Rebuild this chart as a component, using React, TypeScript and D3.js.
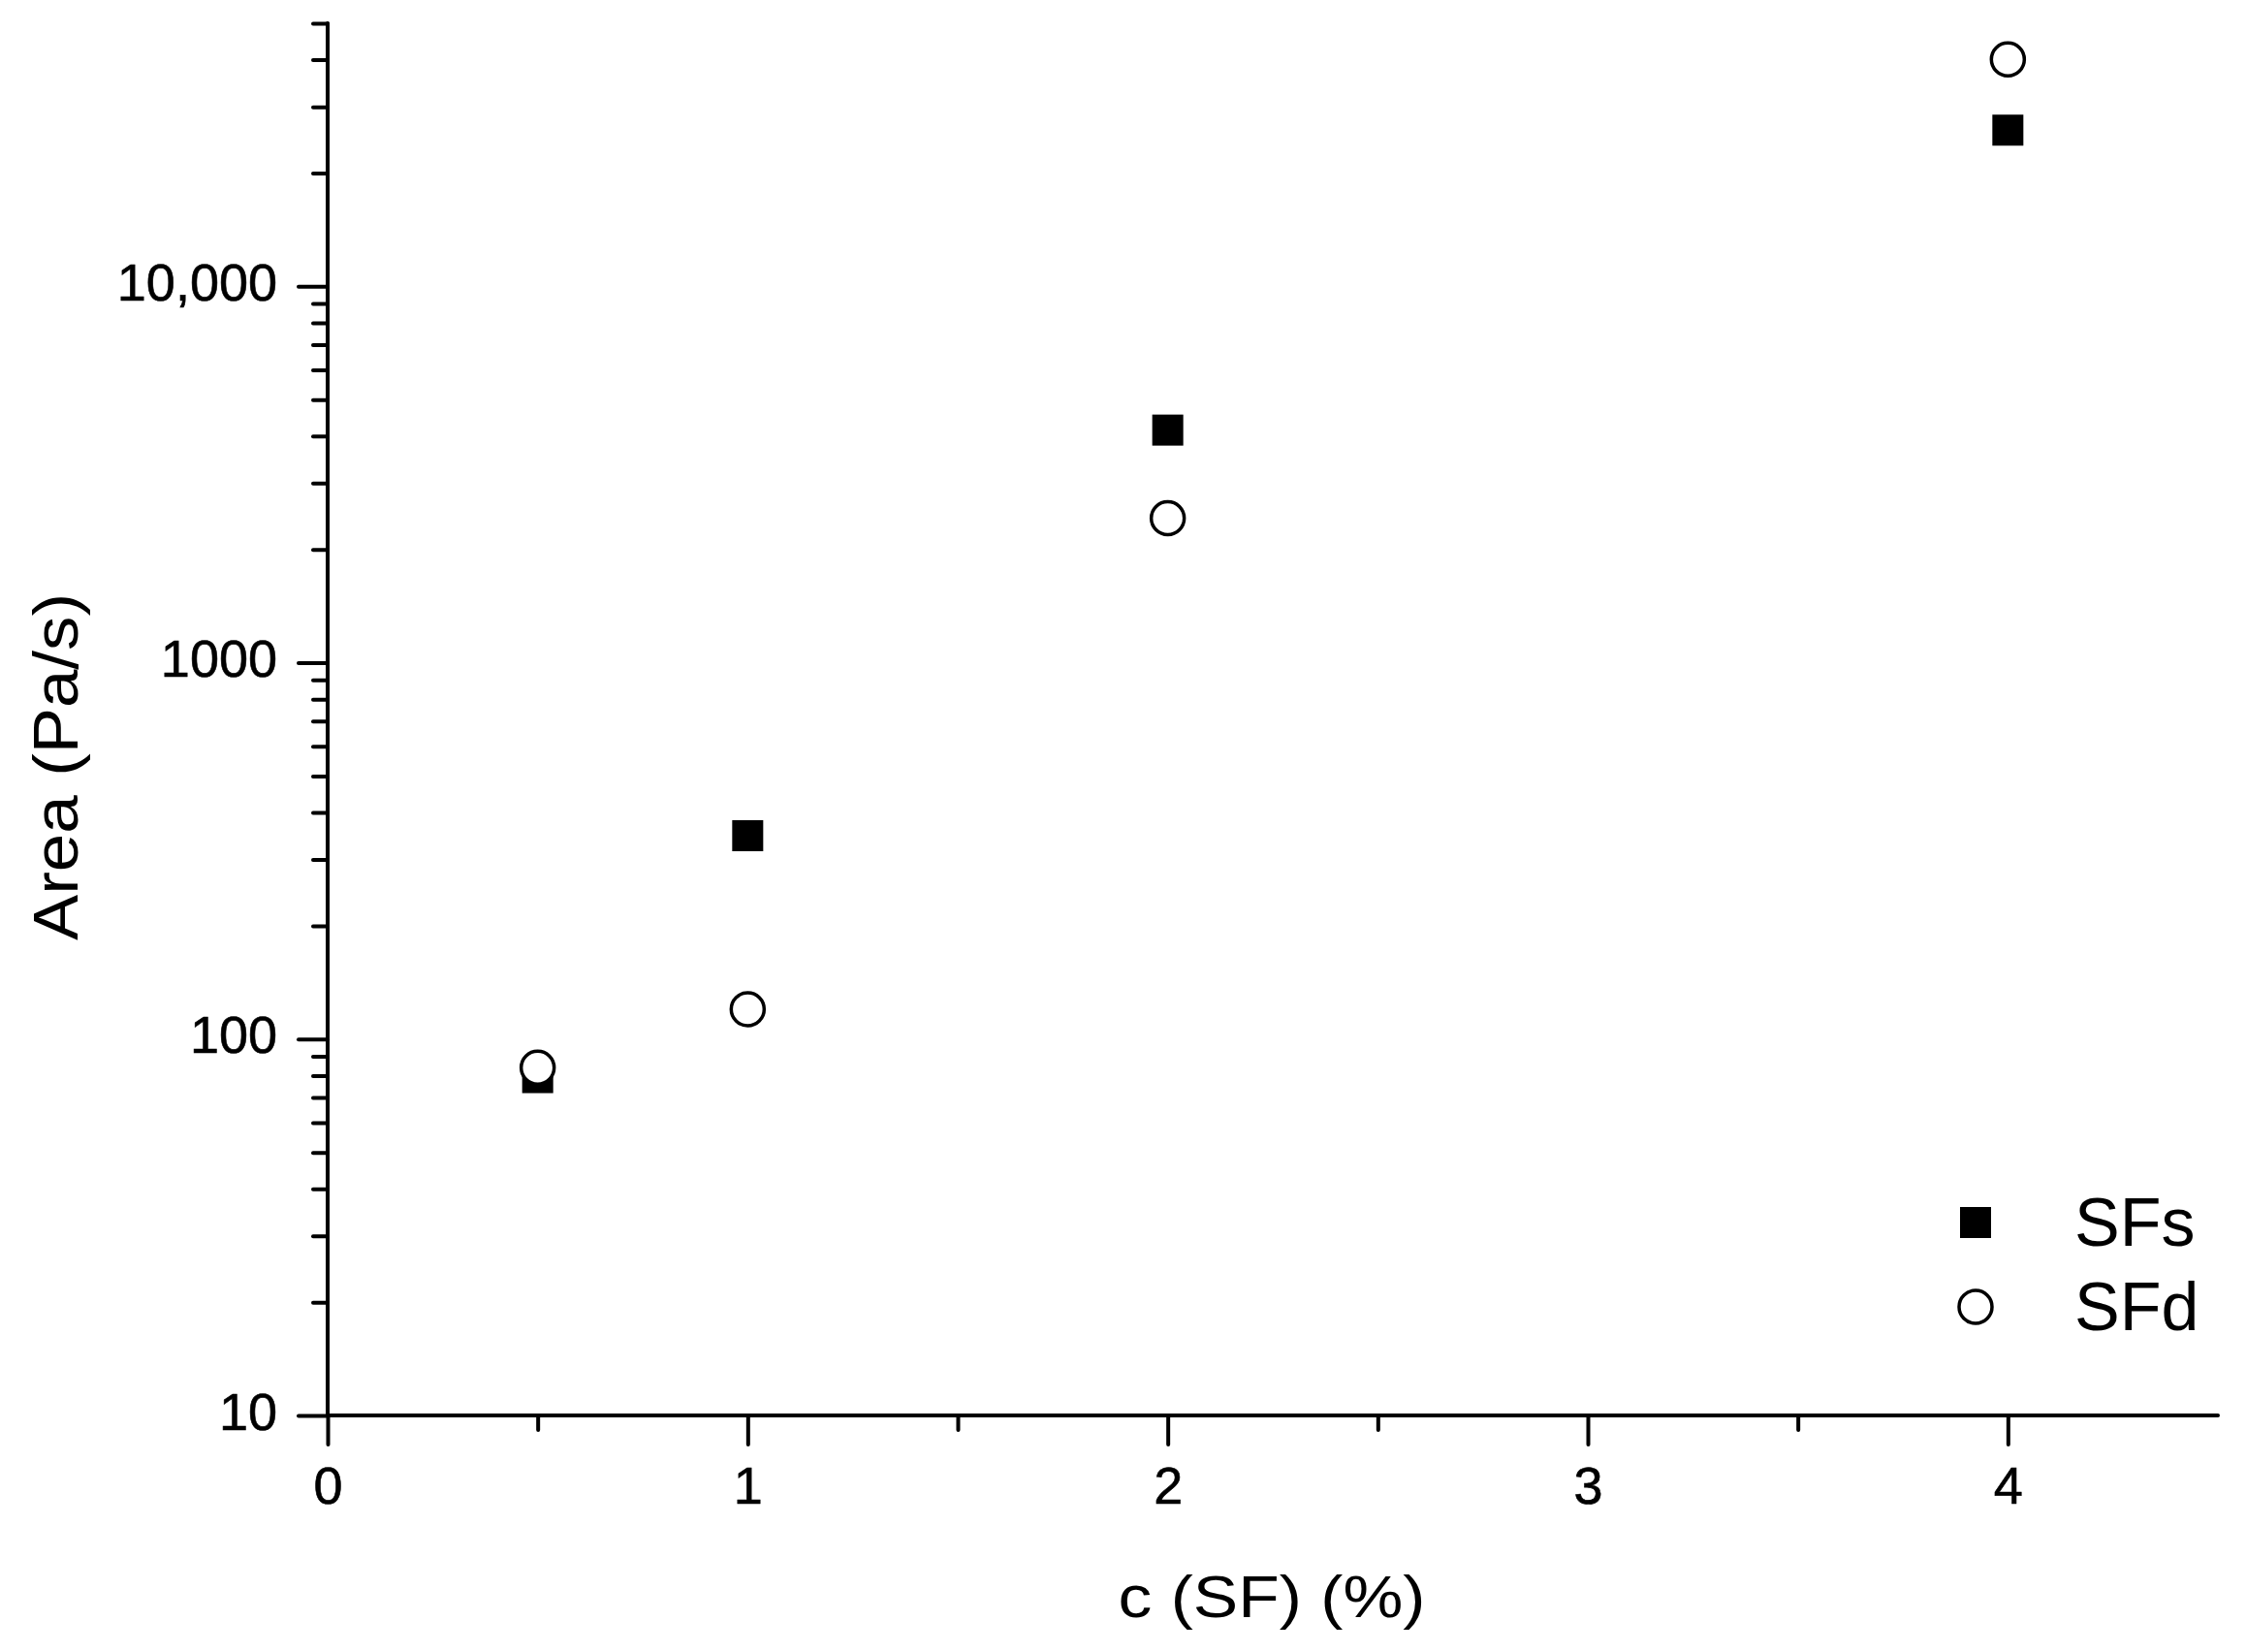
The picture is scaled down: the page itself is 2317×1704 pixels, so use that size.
import * as d3 from 'd3';
import React, { useRef, useEffect } from 'react';

// values
const concentrations = [0.5, 1, 2, 4];
const sfsArea = [79, 347, 4150, 26000];
const sfdArea = [84, 120, 2420, 40100];

const xMajorTicks = [0, 1, 2, 3, 4];
const xMinorTicks = [0.5, 1.5, 2.5, 3.5];
const yMajorTicks = [10, 100, 1000, 10000];
const yMajorLabels = ['10', '100', '1000', '10,000'];
const yMinorTicks = [
    20, 30, 40, 50, 60, 70, 80, 90,
    200, 300, 400, 500, 600, 700, 800, 900,
    2000, 3000, 4000, 5000, 6000, 7000, 8000, 9000,
    20000, 30000, 40000, 50000,
];

const seriesNames = ['SFs', 'SFd'];

const App = () => {
    const svgRef = useRef<SVGSVGElement>(null);

    useEffect(() => {
        const opt = {
            width: 2317,
            height: 1704,
            left: 338,
            right: 2288,
            top: 24,
            bottom: 1460,
            font: 'Arial, "Liberation Sans", sans-serif',
        };

        const svg = d3.select(svgRef.current);
        svg.selectAll('*').remove();

        const x = d3.scaleLinear().domain([0, 4.5]).range([opt.left, opt.right]);
        const y = d3.scaleLog().domain([10, 50000]).range([opt.bottom, opt.top]);

        const styleAxis = (g: any) => {
            g.select('.domain').remove();
            g.selectAll('line')
                .attr('stroke', '#000')
                .attr('stroke-width', 4)
                .attr('stroke-linecap', 'round');
            g.selectAll('text')
                .attr('font-family', opt.font)
                .attr('font-size', 54)
                .attr('fill', '#000')
                .attr('stroke', '#000')
                .attr('stroke-width', 0.6);
        };

        // x axis
        svg.append('g')
            .attr('transform', `translate(0, ${opt.bottom})`)
            .call(d3.axisBottom(x).tickValues(xMinorTicks).tickSize(15).tickFormat(() => ''))
            .call(styleAxis);
        svg.append('g')
            .attr('transform', `translate(0, ${opt.bottom})`)
            .call(d3.axisBottom(x).tickValues(xMajorTicks).tickSize(30).tickPadding(23).tickFormat(d3.format('d')))
            .call(styleAxis);

        // y axis
        svg.append('g')
            .attr('transform', `translate(${opt.left}, 0)`)
            .call(d3.axisLeft(y).tickValues(yMinorTicks).tickSize(15).tickFormat(() => ''))
            .call(styleAxis);
        svg.append('g')
            .attr('transform', `translate(${opt.left}, 0)`)
            .call(d3.axisLeft(y).tickValues(yMajorTicks).tickSize(30).tickPadding(22)
                .tickFormat((d: any, i: number) => yMajorLabels[i]))
            .call(styleAxis)
            .selectAll('text')
            .attr('dy', '0.26em');

        // axis lines
        svg.append('line')
            .attr('x1', opt.left).attr('x2', opt.right)
            .attr('y1', opt.bottom).attr('y2', opt.bottom)
            .attr('stroke', '#000').attr('stroke-width', 4).attr('stroke-linecap', 'round');
        svg.append('line')
            .attr('x1', opt.left).attr('x2', opt.left)
            .attr('y1', opt.top).attr('y2', opt.bottom)
            .attr('stroke', '#000').attr('stroke-width', 4).attr('stroke-linecap', 'round');

        // axis titles
        svg.append('text')
            .attr('x', 1312)
            .attr('y', 1668)
            .attr('text-anchor', 'middle')
            .attr('font-family', opt.font)
            .attr('font-size', 62)
            .attr('textLength', 317)
            .attr('lengthAdjust', 'spacingAndGlyphs')
            .text('c (SF) (%)');

        svg.append('text')
            .attr('transform', 'translate(80, 791) rotate(-90)')
            .attr('text-anchor', 'middle')
            .attr('font-family', opt.font)
            .attr('font-size', 64)
            .attr('textLength', 358)
            .attr('lengthAdjust', 'spacingAndGlyphs')
            .text('Area (Pa/s)');

        const square = 32;
        const radius = 17;

        // SFs squares
        svg.append('g')
            .selectAll('rect')
            .data(concentrations)
            .join('rect')
            .attr('x', (d: number) => x(d) - square / 2)
            .attr('y', (d: number, i: number) => y(sfsArea[i]) - square / 2)
            .attr('width', square)
            .attr('height', square)
            .attr('fill', '#000');

        // SFd circles
        svg.append('g')
            .selectAll('circle')
            .data(concentrations)
            .join('circle')
            .attr('cx', (d: number) => x(d))
            .attr('cy', (d: number, i: number) => y(sfdArea[i]))
            .attr('r', radius)
            .attr('fill', '#fff')
            .attr('stroke', '#000')
            .attr('stroke-width', 3.5);

        // legend
        const legend = svg.append('g').attr('transform', 'translate(2038, 1261)');
        legend.append('rect')
            .attr('x', -square / 2).attr('y', -square / 2)
            .attr('width', square).attr('height', square)
            .attr('fill', '#000');
        legend.append('circle')
            .attr('cx', 0).attr('cy', 87)
            .attr('r', radius)
            .attr('fill', '#fff').attr('stroke', '#000').attr('stroke-width', 3.5);
        legend.selectAll('text')
            .data(seriesNames)
            .join('text')
            .attr('x', 102)
            .attr('y', (d: string, i: number) => 24 + i * 87)
            .attr('font-family', opt.font)
            .attr('font-size', 70)
            .attr('fill', '#000')
            .text((d: string) => d);
    }, []);

    return (
        <svg
            ref={svgRef}
            width={2317}
            height={1704}
            style={{ position: 'absolute', left: 0, top: 0, background: '#fff' }}
        />
    );
};

export default App;
